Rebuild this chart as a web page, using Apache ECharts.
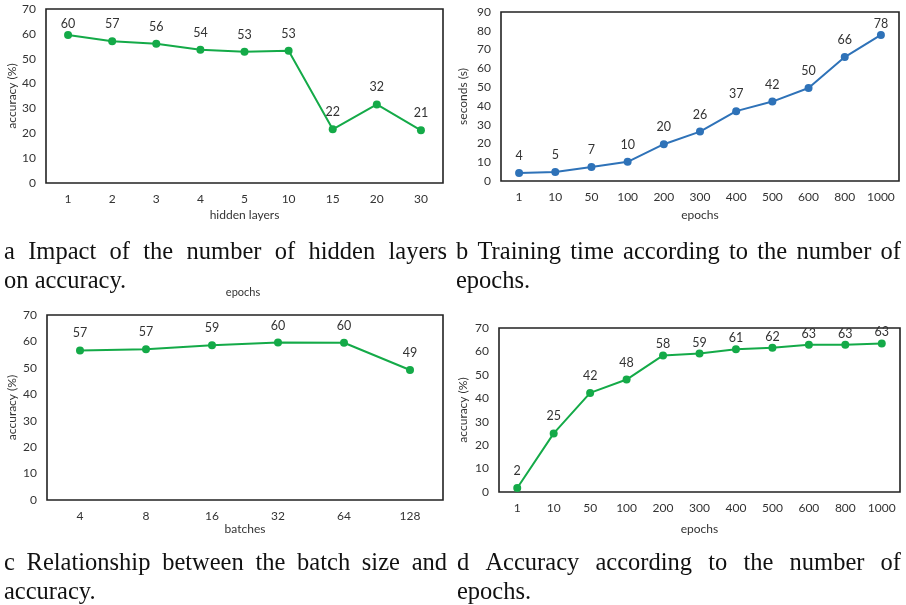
<!DOCTYPE html>
<html>
<head>
<meta charset="utf-8">
<script src="https://cdn.jsdelivr.net/npm/echarts@6/dist/echarts.min.js"></script>
<style>html,body{margin:0;padding:0;background:#fff}#c{width:906px;height:605px}</style>
</head>
<body>
<div id="c"></div>
<script>
// ---- data ----
const aCats = ['1','2','3','4','5','10','15','20','30'];
const aVals = [59.5, 57, 56, 53.6, 52.8, 53.2, 21.6, 31.6, 21.2];
const bCats = ['1','10','50','100','200','300','400','500','600','800','1000'];
const bVals = [4.2, 4.8, 7.4, 10.2, 19.6, 26.3, 37.2, 42.3, 49.5, 66, 77.8];
const cCats = ['4','8','16','32','64','128'];
const cVals = [56.6, 57, 58.6, 59.6, 59.5, 49.2];
const dCats = ['1','10','50','100','200','300','400','500','600','800','1000'];
const dVals = [1.7, 25, 42.3, 48, 58.3, 59.1, 60.9, 61.6, 62.9, 62.9, 63.4];
const yMaxA = 70, yMaxB = 90, yMaxC = 70, yMaxD = 70;
const captionA = ['a Impact of the number of hidden layers', 'on accuracy.'];
const captionB = ['b Training time according to the number of', 'epochs.'];
const captionC = ['c Relationship between the batch size and', 'accuracy.'];
const captionD = ['d Accuracy according to the number of', 'epochs.'];

// ---- styles / layout ----
const GREEN = '#14aa48', BLUE = '#2e72b8';
const SANS = 'Lato, "Open Sans", sans-serif';
const TXT = '#333';
const panels = [
  {cats:aCats, vals:aVals, max:yMaxA, color:GREEN, grid:{left:46,right:463,top:9,bottom:422}, xName:'hidden layers', xGap:26, yName:'accuracy (%)', yGap:28, nearTop:58},
  {cats:bCats, vals:bVals, max:yMaxB, color:BLUE, grid:{left:501,right:7,top:12,bottom:424}, xName:'epochs', xGap:28, yName:'seconds (s)', yGap:32, nearTop:75},
  {cats:cCats, vals:cVals, max:yMaxC, color:GREEN, grid:{left:47,right:463,top:315,bottom:105}, xName:'batches', xGap:21, yName:'accuracy (%)', yGap:29, nearTop:1000},
  {cats:dCats, vals:dVals, max:yMaxD, color:GREEN, grid:{left:499,right:6,top:328,bottom:113}, xName:'epochs', xGap:31, yName:'accuracy (%)', yGap:30, nearTop:55}
];

const grids = [], xAxes = [], yAxes = [], series = [];
panels.forEach((p, i) => {
  grids.push(Object.assign({show:true, borderColor:'#222', borderWidth:1.6, backgroundColor:'transparent'}, p.grid));
  xAxes.push({
    type:'category', gridIndex:i, data:p.cats, boundaryGap:true,
    axisLine:{show:false}, axisTick:{show:false},
    axisLabel:{color:TXT, fontSize:12, fontFamily:SANS, margin:10, interval:0},
    name:p.xName, nameLocation:'middle', nameGap:p.xGap,
    nameTextStyle:{color:TXT, fontSize:12, fontFamily:SANS}
  });
  yAxes.push({
    type:'value', gridIndex:i, min:0, max:p.max, interval:10,
    axisLine:{show:false}, axisTick:{show:false}, splitLine:{show:false},
    axisLabel:{color:TXT, fontSize:12, fontFamily:SANS, margin:10},
    name:p.yName, nameLocation:'middle', nameGap:p.yGap,
    nameTextStyle:{color:TXT, fontSize:12, fontFamily:SANS}
  });
  series.push({
    type:'line', xAxisIndex:i, yAxisIndex:i,
    data:p.vals.map(v => ({value:v, label:{distance: v >= p.nearTop ? 0.5 : 6.5}})),
    symbol:'circle', symbolSize:8, showSymbol:true,
    lineStyle:{color:p.color, width:2}, itemStyle:{color:p.color},
    label:{show:true, position:'top', color:TXT, fontSize:12.5, fontFamily:SANS,
      formatter: q => String(Math.round(q.value))},
    animation:false
  });
});

// ---- captions (justified like the LaTeX source) ----
const CAP_FONT_SIZE = 24.5, CAP_FAMILY = '"Liberation Serif", "Times New Roman", serif';
const cnv = document.createElement('canvas').getContext('2d');
cnv.font = CAP_FONT_SIZE + 'px ' + CAP_FAMILY;
function captionGraphics(lines, x0, x1, base1, lineGap) {
  const out = [];
  lines.forEach((line, li) => {
    const yMid = base1 + li * lineGap - CAP_FONT_SIZE * 0.33;
    const words = line.split(' ');
    const justify = li < lines.length - 1 && words.length > 1;
    if (!justify) {
      out.push({type:'text', x:x0, y:yMid, style:{text:line, fontSize:CAP_FONT_SIZE, fontFamily:CAP_FAMILY, fill:'#111', align:'left', verticalAlign:'middle'}});
      return;
    }
    const widths = words.map(w => cnv.measureText(w).width);
    const total = widths.reduce((s, w) => s + w, 0);
    const gap = (x1 - x0 - total) / (words.length - 1);
    let x = x0;
    words.forEach((w, k) => {
      out.push({type:'text', x:x, y:yMid, style:{text:w, fontSize:CAP_FONT_SIZE, fontFamily:CAP_FAMILY, fill:'#111', align:'left', verticalAlign:'middle'}});
      x += widths[k] + gap;
    });
  });
  return out;
}
const graphics = [].concat(
  captionGraphics(captionA, 4, 447, 261, 29),
  captionGraphics(captionB, 456, 901, 261, 29),
  captionGraphics(captionC, 4, 447, 572, 29),
  captionGraphics(captionD, 457, 901, 572, 29),
  [{type:'text', x:243, y:292, style:{text:'epochs', fontSize:11, fontFamily:SANS, fill:TXT, align:'center', verticalAlign:'middle'}}]
);

const chart = echarts.init(document.getElementById('c'), null, {renderer:'canvas'});
chart.setOption({
  animation:false,
  grid:grids, xAxis:xAxes, yAxis:yAxes, series:series,
  graphic:graphics
});
</script>
</body>
</html>
